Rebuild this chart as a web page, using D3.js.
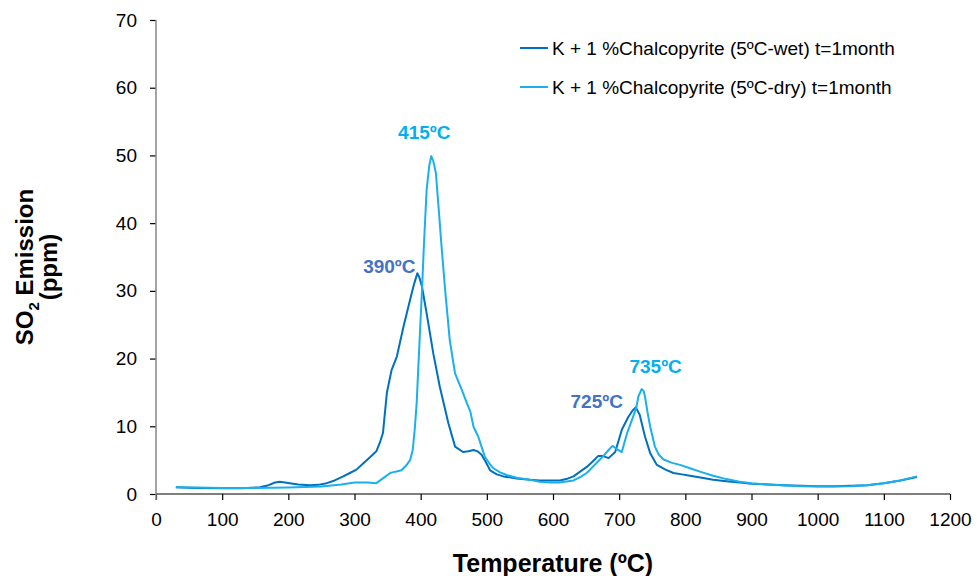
<!DOCTYPE html>
<html lang="en">
	<head>
		<meta charset="utf-8">
		<title>SO2 emission vs temperature</title>
		<script type="text/javascript" src="https://cdn.jsdelivr.net/npm/d3@7"></script>
		<style type="text/css">
			body { margin: 0; background: #fff; }
			text { font-family: "Liberation Sans", Arial, sans-serif; }
		</style>
	</head>
	<body>
		<script type="text/javascript">

			//Data
			var seriesNames = ["K + 1 %Chalcopyrite (5ºC-wet) t=1month",
							   "K + 1 %Chalcopyrite (5ºC-dry) t=1month"];

			var wetTemp = [30,60,100,130,157,170,180,187,195,202,215,233,245,258,270,283,293,303,313,323,
						   333,338,343,349,356,364,374,384,390,395,398,402,409,419,429,442,452,464,472,480,
						   486,492,498,505,515,525,545,565,580,595,610,620,631,641,651,660,668,676,684,694,
						   704,714,720,725,731,739,747,757,770,782,795,807,825,842,862,882,900,925,950,975,
						   1000,1025,1050,1075,1100,1125,1150];
			var wetSO2 = [1.0,0.9,0.85,0.85,1.0,1.3,1.7,1.8,1.7,1.6,1.4,1.3,1.35,1.6,2.0,2.6,3.1,3.6,4.5,5.4,
						  6.3,7.5,9.0,15.0,18.3,20.3,24.7,28.7,31.0,32.6,32.0,30.6,26.7,20.8,15.8,10.4,7.0,6.2,6.3,6.5,
						  6.3,5.8,4.8,3.5,2.9,2.6,2.3,2.1,2.0,2.0,2.0,2.2,2.6,3.3,4.0,4.8,5.6,5.6,5.3,6.2,
						  9.5,11.4,12.3,12.8,11.7,8.5,6.0,4.3,3.6,3.1,2.9,2.7,2.4,2.1,1.9,1.7,1.5,1.4,1.3,1.2,
						  1.15,1.15,1.2,1.3,1.6,2.0,2.5];

			var dryTemp = [30,60,100,150,200,250,280,300,320,333,343,354,362,371,378,384,388,391,394,396,
						   399,402,405,409,413,416,419,423,427,432,437,444,452,462,470,475,480,487,492,497,
						   504,510,520,530,545,565,580,595,610,631,641,651,660,668,676,684,690,697,704,712,
						   721,726,729,734,737,739,743,747,754,760,767,780,792,807,822,842,862,882,900,925,
						   950,975,1000,1025,1050,1075,1100,1125,1150];
			var drySO2 = [1.0,0.95,0.9,0.9,0.95,1.1,1.4,1.7,1.7,1.6,2.3,3.1,3.3,3.5,4.2,5.0,6.5,9.5,13.5,17.8,
						  24,30.1,37,44.9,48.5,49.9,49.2,47.4,42.4,36,30.1,22.7,17.8,15.4,13.4,12.2,9.9,8.5,7.0,5.5,
						  4.5,3.8,3.2,2.8,2.4,2.1,1.8,1.7,1.7,2.0,2.5,3.1,4.0,4.8,5.6,6.5,7.1,6.6,6.2,9.0,
						  11.4,12.8,14.4,15.5,15.2,14.4,12.0,9.9,7.0,5.8,5.1,4.6,4.3,3.8,3.3,2.7,2.2,1.8,1.6,1.4,
						  1.25,1.15,1.1,1.1,1.15,1.3,1.6,2.0,2.6];

			var xTicks = [0,100,200,300,400,500,600,700,800,900,1000,1100,1200];
			var yTicks = [0,10,20,30,40,50,60,70];

			//Peak annotations: label, temperature, value, series index
			var peakLabels = ["390ºC","415ºC","725ºC","735ºC"];
			var peakTemps = [395,416,725,734];
			var peakValues = [32.6,49.9,12.8,15.5];
			var peakSeries = [0,1,0,1];

			//Width and height
			var w = 977;
			var h = 576;
			var margin = {left: 156, right: 27, top: 20, bottom: 82};

			var colors = ["#0070C0", "#1AB0EC"];
			var labelColors = ["#4472C4", "#00B0F0"];

			var xScale = d3.scaleLinear()
							.domain([0, 1200])
							.range([margin.left, w - margin.right]);

			var yScale = d3.scaleLinear()
							.domain([0, 70])
							.range([h - margin.bottom, margin.top]);

			//Create SVG element
			var svg = d3.select("body")
						.append("svg")
						.attr("width", w)
						.attr("height", h);

			//Axes
			svg.append("g")
				.attr("transform", "translate(0," + yScale(0) + ")")
				.call(d3.axisBottom(xScale).tickValues(xTicks).tickFormat(d3.format("d")).tickSize(6).tickPadding(13));

			svg.append("g")
				.attr("transform", "translate(" + xScale(0) + ",0)")
				.call(d3.axisLeft(yScale).tickValues(yTicks).tickFormat(d3.format("d")).tickSize(6).tickPadding(13));

			svg.selectAll(".domain").remove();
			svg.selectAll(".tick line").attr("stroke", "#000").attr("stroke-width", 1.2);
			svg.selectAll(".tick text")
			   .attr("font-family", "'Liberation Sans', Arial, sans-serif")
			   .attr("font-size", "19px")
			   .attr("fill", "#000");

			//axis lines
			svg.append("line")
			   .attr("x1", xScale(0)).attr("x2", xScale(1200))
			   .attr("y1", yScale(0)).attr("y2", yScale(0))
			   .attr("stroke", "#000").attr("stroke-width", 1.2);
			svg.append("line")
			   .attr("x1", xScale(0)).attr("x2", xScale(0))
			   .attr("y1", yScale(70)).attr("y2", yScale(0) + 6)
			   .attr("stroke", "#868686").attr("stroke-width", 1.5);

			//Lines
			var line = d3.line()
						 .x(function(d) { return xScale(d[0]); })
						 .y(function(d) { return yScale(d[1]); });

			var series = [d3.zip(wetTemp, wetSO2), d3.zip(dryTemp, drySO2)];

			svg.selectAll("path.series")
			   .data(series)
			   .enter()
			   .append("path")
			   .attr("class", "series")
			   .attr("d", line)
			   .attr("fill", "none")
			   .attr("stroke", function(d, i) { return colors[i]; })
			   .attr("stroke-width", 2)
			   .attr("stroke-linejoin", "round");

			//Peak labels
			var labelDx = [-28, -7, -39, 14];
			var labelDy = [0, -17, 1, -16];
			svg.selectAll("text.peak")
			   .data(peakLabels)
			   .enter()
			   .append("text")
			   .attr("class", "peak")
			   .text(function(d) { return d; })
			   .attr("text-anchor", "middle")
			   .attr("x", function(d, i) { return xScale(peakTemps[i]) + labelDx[i]; })
			   .attr("y", function(d, i) { return yScale(peakValues[i]) + labelDy[i]; })
			   .attr("font-family", "Lato, 'Open Sans', sans-serif")
			   .attr("font-weight", "bold")
			   .attr("font-size", "19px")
			   .attr("fill", function(d, i) { return labelColors[peakSeries[i]]; });

			//Legend
			var legend = svg.selectAll("g.legend")
			   .data(seriesNames)
			   .enter()
			   .append("g")
			   .attr("class", "legend")
			   .attr("transform", function(d, i) { return "translate(520," + (48 + i * 39) + ")"; });

			legend.append("line")
				  .attr("x1", 0).attr("x2", 28)
				  .attr("stroke", function(d, i) { return colors[i]; })
				  .attr("stroke-width", 2);

			legend.append("text")
				  .attr("x", 32)
				  .attr("y", 6.5)
				  .text(function(d) { return d; })
				  .attr("font-size", "19px")
				  .attr("fill", "#000");

			//Axis titles
			svg.append("text")
			   .attr("x", 553)
			   .attr("y", 572)
			   .attr("text-anchor", "middle")
			   .attr("font-size", "25px")
			   .attr("font-weight", "bold")
			   .text("Temperature (ºC)");

			var yTitle = svg.append("text")
			   .attr("transform", "translate(33,267) rotate(-90)")
			   .attr("text-anchor", "middle")
			   .attr("font-size", "24px")
			   .attr("font-weight", "bold");
			yTitle.append("tspan").attr("x", 0).attr("dy", 0).text("SO");
			yTitle.append("tspan").attr("dy", 6).attr("font-size", "15px").text("2");
			yTitle.append("tspan").attr("dy", -6).text(" Emission");
			yTitle.append("tspan").attr("x", 0).attr("dy", 24).text("(ppm)");

		</script>
	</body>
</html>
